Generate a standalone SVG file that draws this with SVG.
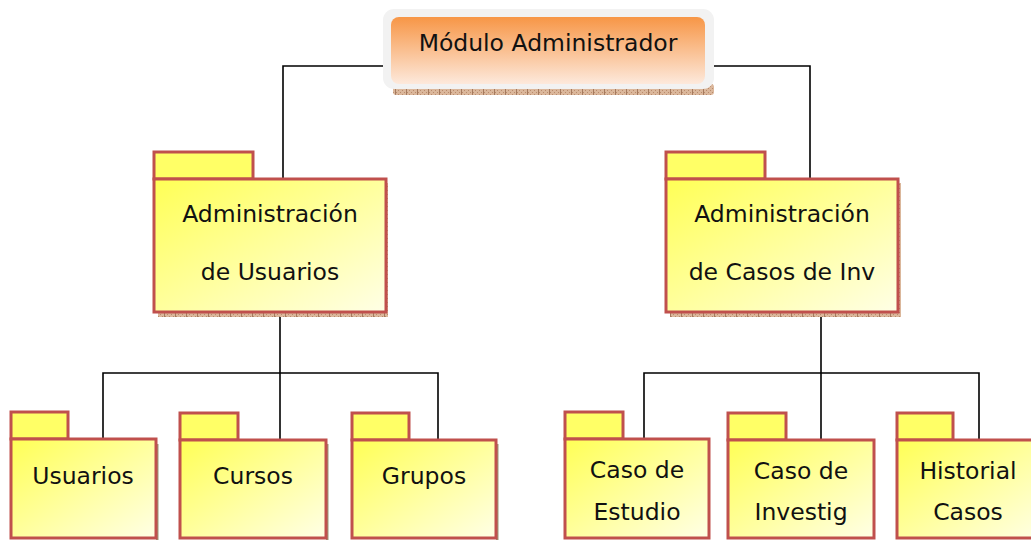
<svg xmlns="http://www.w3.org/2000/svg" width="1031" height="540" viewBox="0 0 1031 540">
<defs>
<linearGradient id="pkgGrad" x1="0" y1="0" x2="1" y2="1">
<stop offset="0" stop-color="#ffff55"/>
<stop offset="1" stop-color="#ffffe6"/>
</linearGradient>
<linearGradient id="orangeGrad" x1="0" y1="0" x2="0" y2="1">
<stop offset="0" stop-color="#f79646"/>
<stop offset="1" stop-color="#fde9dc"/>
</linearGradient>
<pattern id="shadowPat" width="11" height="4" patternUnits="userSpaceOnUse">
<rect width="11" height="4" fill="#dbb79b"/>
<rect x="0" y="0" width="1" height="1" fill="#b98b6c"/>
<rect x="2" y="2" width="1" height="1" fill="#b98b6c"/>
<rect x="4" y="0" width="1" height="1" fill="#b98b6c"/>
<rect x="6" y="2" width="1" height="1" fill="#b98b6c"/>
<rect x="8" y="0" width="1" height="1" fill="#b98b6c"/>
<rect x="10" y="0" width="1" height="4" fill="#a57a5e"/>
</pattern>
</defs>
<style>
.pkg{fill:url(#pkgGrad);stroke:#c0504d;stroke-width:3}
.tab{fill:#ffff66;stroke:#c0504d;stroke-width:3}
.shadow{fill:url(#shadowPat)}
.sshadow{fill:#9a9a7a}
.lbl{font-family:"DejaVu Sans",Verdana,sans-serif;font-size:23.5px;fill:#111;text-anchor:middle}
.conn{fill:none;stroke:#000;stroke-width:1.6}
</style>
<rect width="1031" height="540" fill="#fff"/>

<g id="connectors">
<polyline class="conn" points="384,66 283,66 283,179"/>
<polyline class="conn" points="713,66 810,66 810,179"/>
<line class="conn" x1="280" y1="313" x2="280" y2="439"/>
<polyline class="conn" points="103,439 103,373 438,373 438,439"/>
<line class="conn" x1="821" y1="313" x2="821" y2="439"/>
<polyline class="conn" points="644,439 644,373 979,373 979,439"/>
</g>

<g id="modulo-administrador">
<rect x="393" y="84" width="321" height="11" rx="3" class="shadow"/>
<rect x="383" y="9" width="331" height="80" rx="11" fill="#f2f2f2"/>
<rect x="391" y="17" width="314" height="67" rx="8" fill="url(#orangeGrad)"/>
<text class="lbl" x="548" y="51">Módulo Administrador</text>
</g>

<g id="admin-usuarios">
<rect x="158" y="183" width="230" height="134" class="shadow"/>
<rect x="154" y="152" width="99" height="27" class="tab"/>
<rect x="154" y="179" width="232" height="133" class="pkg"/>
<text class="lbl" x="270" y="222">Administración</text>
<text class="lbl" x="270" y="280">de Usuarios</text>
</g>

<g id="admin-casos">
<rect x="670" y="183" width="231" height="134" class="shadow"/>
<rect x="666" y="152" width="99" height="27" class="tab"/>
<rect x="666" y="179" width="232" height="133" class="pkg"/>
<text class="lbl" x="782" y="222">Administración</text>
<text class="lbl" x="782" y="280">de Casos de Inv</text>
</g>

<g id="usuarios">
<rect x="156" y="444" width="2.5" height="96" class="sshadow"/>
<rect x="11" y="412" width="57" height="27" class="tab"/>
<rect x="11" y="439" width="145" height="99" class="pkg"/>
<text class="lbl" x="83" y="484">Usuarios</text>
</g>

<g id="cursos">
<rect x="326" y="444" width="2.5" height="96" class="sshadow"/>
<rect x="180" y="413" width="58" height="27" class="tab"/>
<rect x="180" y="440" width="146" height="98" class="pkg"/>
<text class="lbl" x="253" y="484">Cursos</text>
</g>

<g id="grupos">
<rect x="496" y="444" width="2.5" height="96" class="sshadow"/>
<rect x="352" y="413" width="57" height="27" class="tab"/>
<rect x="352" y="440" width="144" height="98" class="pkg"/>
<text class="lbl" x="424" y="484">Grupos</text>
</g>

<g id="caso-estudio">
<rect x="565" y="412" width="58" height="27" class="tab"/>
<rect x="565" y="439" width="144" height="99" class="pkg"/>
<text class="lbl" x="637" y="478">Caso de</text>
<text class="lbl" x="637" y="520">Estudio</text>
</g>

<g id="caso-investig">
<rect x="728" y="413" width="58" height="27" class="tab"/>
<rect x="728" y="440" width="146" height="98" class="pkg"/>
<text class="lbl" x="801" y="479">Caso de</text>
<text class="lbl" x="801" y="520">Investig</text>
</g>

<g id="historial-casos">
<rect x="897" y="413" width="56" height="27" class="tab"/>
<rect x="897" y="440" width="146" height="98" class="pkg"/>
<text class="lbl" x="968" y="479">Historial</text>
<text class="lbl" x="968" y="520">Casos</text>
</g>
</svg>
